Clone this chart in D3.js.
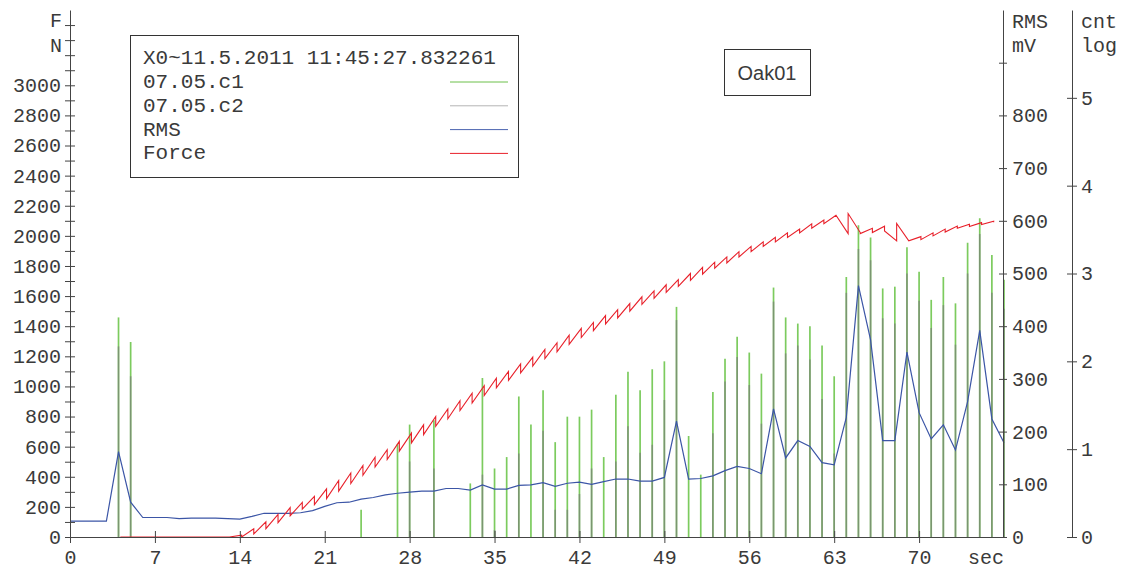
<!DOCTYPE html>
<html>
<head>
<meta charset="utf-8">
<script src="https://cdn.jsdelivr.net/npm/d3@7"></script>
<style>
  body { margin: 0; background: #fff; }
  svg text { font-family: "Liberation Mono", "DejaVu Sans Mono", monospace; fill: #3a3a3a; }
</style>
</head>
<body>
<div id="plot"></div>
<script>
// one sample per second, t = 0 .. 77
const seconds = d3.range(0, 78);

// RMS in mV (right inner axis)
const rmsMv = [30, 30, 30, 30, 162, 66, 37, 37, 37, 35,
               36, 36, 36, 35, 34, 39, 45, 45, 45, 46,
               50, 58, 65, 66, 72, 75, 80, 83, 85, 87,
               87, 92, 92, 89, 99, 91, 91, 98, 99, 103,
               96, 102, 104, 100, 105, 110, 110, 106, 106, 113,
               220, 110, 111, 116, 126, 134, 130, 120, 243, 150,
               183, 172, 141, 137, 227, 477, 374, 183, 183, 351,
               236, 186, 213, 165, 257, 392, 224, 179];

// hit counts, log10 (outer right axis)
const cntC1 = [0, 0, 0, 0, 2.50, 2.22, 0, 0, 0, 0,
               0, 0, 0, 0, 0, 0, 0, 0, 0, 0,
               0, 0, 0, 0, 0.31, 0, 0, 1.06, 1.28, 0,
               1.33, 0, 0, 0.61, 1.81, 0.78, 0.91, 1.60, 1.28, 1.67,
               1.08, 1.37, 1.37, 1.45, 0.91, 1.62, 1.88, 1.67, 1.91, 2.00,
               2.62, 1.15, 0.71, 1.65, 2.03, 2.28, 2.10, 1.86, 2.84, 2.50,
               2.43, 2.40, 2.18, 1.83, 2.96, 3.55, 3.41, 2.83, 2.85, 3.30,
               3.02, 2.70, 2.96, 2.66, 3.35, 3.63, 3.21, 2.93];
const cntC2 = [0, 0, 0, 0, 2.17, 1.83, 0, 0, 0, 0,
               0, 0, 0, 0, 0, 0, 0, 0, 0, 0,
               0, 0, 0, 0, 0, 0, 0, 0, 0.86, 0,
               0.78, 0, 0, 0, 0.71, 0.08, 0, 0.95, 0, 1.21,
               0.31, 0.31, 0.49, 0.78, 0, 0.86, 1.26, 0.96, 1.05, 1.56,
               2.47, 0, 0, 1.18, 1.77, 2.05, 1.73, 1.29, 2.68, 2.09,
               2.18, 2.02, 1.57, 0.95, 2.78, 3.28, 3.15, 2.49, 2.43, 3.00,
               2.69, 2.38, 2.64, 2.19, 3.00, 3.45, 2.78, 2.60];

// force in N, sawtooth: value before and after each step, from t = 4
const forceStart = 4.15;
const forcePeak = [0, 0, 0, 0, 0, 0, 0, 0, 0, 0,
                   12, 55, 100, 150, 195, 230, 270, 320, 375, 425,
                   475, 530, 580, 635, 690, 745, 800, 850, 905, 955,
                   1005, 1055, 1100, 1150, 1195, 1245, 1290, 1340, 1385, 1425,
                   1470, 1510, 1550, 1595, 1635, 1675, 1710, 1750, 1790, 1825,
                   1860, 1895, 1930, 1960, 1990, 2020, 2045, 2080, 2105, 2137,
                   2015, 2022, 2050, 2064, 1967, 1967, 1995, 2020, 2045, 2065,
                   2077, 2088, 2097];
const forceLow = [0, 0, 0, 0, 0, 0, 0, 0, 0, 0,
                  0, 20, 55, 95, 140, 185, 215, 255, 305, 355,
                  410, 465, 515, 570, 625, 680, 735, 785, 840, 890,
                  940, 990, 1040, 1090, 1135, 1185, 1230, 1280, 1325, 1370,
                  1415, 1455, 1500, 1545, 1585, 1625, 1665, 1705, 1745, 1785,
                  1820, 1860, 1895, 1930, 1960, 1990, 2020, 2050, 2080, 2137,
                  2148, 2015, 2022, 2033, 2082, 1967, 1975, 2000, 2025, 2050,
                  2062, 2075, 2090];

// ticks
const xTicks = [0, 7, 14, 21, 28, 35, 42, 49, 56, 63, 70];
const forceTicks = d3.range(0, 3401, 100);
const rmsTicks = d3.range(0, 901, 100);
const cntTicks = [0, 1, 2, 3, 4, 5];

// legend
const legendTitle = "X0~11.5.2011 11:45:27.832261";
const seriesNames = ["07.05.c1", "07.05.c2", "RMS", "Force"];
const seriesColors = ["#6cc04a", "#b4b4b4", "#4a64b0", "#e8202a"];
const tagText = "Oak01";

window.addEventListener("load", main);

function main(){
  let [svgWidth, svgHeight] = [1123, 570];
  let [left, right, top, bottom] = [70, 1004, 10, 537];
  let rmsX = 1003, cntX = 1072;
  let axisColor = "#444";

  let svg = d3.select('#plot').append('svg')
    .attr('width', svgWidth)
    .attr('height', svgHeight);

  let xsc = d3.scaleLinear().domain([0, 77]).range([left, right]);
  let yForce = d3.scaleLinear().domain([0, 3500]).range([bottom, top]);
  let yRms = d3.scaleLinear().domain([0, 1000]).range([bottom, top]);
  let yCnt = d3.scaleLinear().domain([0, 6]).range([bottom, top]);

  // bars: c1 green, c2 gray laid over it
  let bars = svg.append('g');
  bars.selectAll('line.c1')
    .data(seconds.filter(t => cntC1[t] > 0))
    .join('line').attr('class', 'c1')
      .attr('x1', t => xsc(t)).attr('x2', t => xsc(t))
      .attr('y1', yCnt(0)).attr('y2', t => yCnt(cntC1[t]))
      .attr('stroke', '#7ccb5e').attr('stroke-width', 1.7);
  bars.selectAll('line.c2')
    .data(seconds.filter(t => cntC2[t] > 0))
    .join('line').attr('class', 'c2')
      .attr('x1', t => xsc(t)).attr('x2', t => xsc(t))
      .attr('y1', yCnt(0)).attr('y2', t => yCnt(cntC2[t]))
      .attr('stroke', '#7a7a7a').attr('stroke-opacity', 0.65).attr('stroke-width', 1.6);

  // RMS line
  let rmsLine = d3.line().x(t => xsc(t)).y(t => yRms(rmsMv[t]));
  svg.append('path')
    .attr('d', rmsLine(seconds))
    .attr('fill', 'none').attr('stroke', '#3b55a6').attr('stroke-width', 1.2);

  // force sawtooth
  let forcePts = [];
  forcePeak.forEach((p, i) => {
    let t = forceStart + i;
    forcePts.push([t, p]);
    forcePts.push([t, forceLow[i]]);
  });
  let forceLine = d3.line().x(d => xsc(d[0])).y(d => yForce(d[1]));
  svg.append('path')
    .attr('d', forceLine(forcePts))
    .attr('fill', 'none').attr('stroke', '#e8202a').attr('stroke-width', 1.1);

  // axes //
  function styleAxis(g){
    g.select('.domain').attr('stroke', axisColor);
    g.selectAll('.tick line').attr('stroke', axisColor);
    g.selectAll('.tick text').attr('font-size', 20).attr('fill', '#3a3a3a')
      .attr('font-family', '"Liberation Mono", monospace');
    return g;
  }

  let xAx = svg.append('g')
    .attr('transform', `translate(0,${bottom})`)
    .call(d3.axisBottom(xsc).tickValues(xTicks).tickSize(6).tickPadding(7).tickSizeOuter(0));
  styleAxis(xAx);
  xAx.selectAll('.tick line').attr('y1', -6);
  xAx.append('text').text('sec')
    .attr('x', right).attr('y', 27)
    .attr('text-anchor', 'end').attr('font-size', 20).attr('fill', '#3a3a3a');

  let fAx = svg.append('g')
    .attr('transform', `translate(${left},0)`)
    .call(d3.axisLeft(yForce).tickValues(forceTicks).tickSize(5).tickPadding(4).tickSizeOuter(0)
      .tickFormat(d => (d % 200 === 0 && d <= 3000) ? d : ''));
  styleAxis(fAx);
  fAx.selectAll('.tick line').attr('x1', 5);
  fAx.append('text').text('F').attr('x', -8).attr('y', 27)
    .attr('text-anchor', 'end').attr('font-size', 20).attr('fill', '#3a3a3a');
  fAx.append('text').text('N').attr('x', -8).attr('y', 52)
    .attr('text-anchor', 'end').attr('font-size', 20).attr('fill', '#3a3a3a');

  let rAx = svg.append('g')
    .attr('transform', `translate(${rmsX},0)`)
    .call(d3.axisRight(yRms).tickValues(rmsTicks).tickSize(4).tickPadding(5).tickSizeOuter(0)
      .tickFormat(d => d <= 800 ? d : ''));
  styleAxis(rAx);
  rAx.selectAll('.tick line').attr('x1', -4);
  rAx.append('text').text('RMS').attr('x', 9).attr('y', 28)
    .attr('font-size', 20).attr('fill', '#3a3a3a');
  rAx.append('text').text('mV').attr('x', 9).attr('y', 52)
    .attr('font-size', 20).attr('fill', '#3a3a3a');

  let cAx = svg.append('g')
    .attr('transform', `translate(${cntX},0)`)
    .call(d3.axisRight(yCnt).tickValues(cntTicks).tickSize(5).tickPadding(4).tickSizeOuter(0)
      .tickFormat(d3.format('d')));
  styleAxis(cAx);
  cAx.selectAll('.tick line').attr('x1', -5);
  cAx.append('text').text('cnt').attr('x', 9).attr('y', 28)
    .attr('font-size', 20).attr('fill', '#3a3a3a');
  cAx.append('text').text('log').attr('x', 9).attr('y', 52)
    .attr('font-size', 20).attr('fill', '#3a3a3a');

  // legend //
  let legend = svg.append('g');
  legend.append('rect')
    .attr('x', 130.5).attr('y', 35.5).attr('width', 388).attr('height', 142)
    .attr('fill', '#fff').attr('stroke', '#333');
  legend.append('text').text(legendTitle)
    .attr('x', 143).attr('y', 64).attr('font-size', 21);
  seriesNames.forEach((name, i) => {
    let cy = 82 + i * 23.8;
    legend.append('text').text(name)
      .attr('x', 143).attr('y', cy + 6).attr('font-size', 21);
    legend.append('line')
      .attr('x1', 450).attr('x2', 508).attr('y1', cy).attr('y2', cy)
      .attr('stroke', seriesColors[i]).attr('stroke-width', 1);
  });

  // tag box
  let tag = svg.append('g');
  tag.append('rect')
    .attr('x', 724.5).attr('y', 49.5).attr('width', 86).attr('height', 46)
    .attr('fill', '#fff').attr('stroke', '#333');
  tag.append('text').text(tagText)
    .attr('x', 767).attr('y', 80).attr('text-anchor', 'middle')
    .attr('font-size', 20).style('font-family', '"Liberation Sans", Arial, sans-serif');
}
</script>
</body>
</html>
